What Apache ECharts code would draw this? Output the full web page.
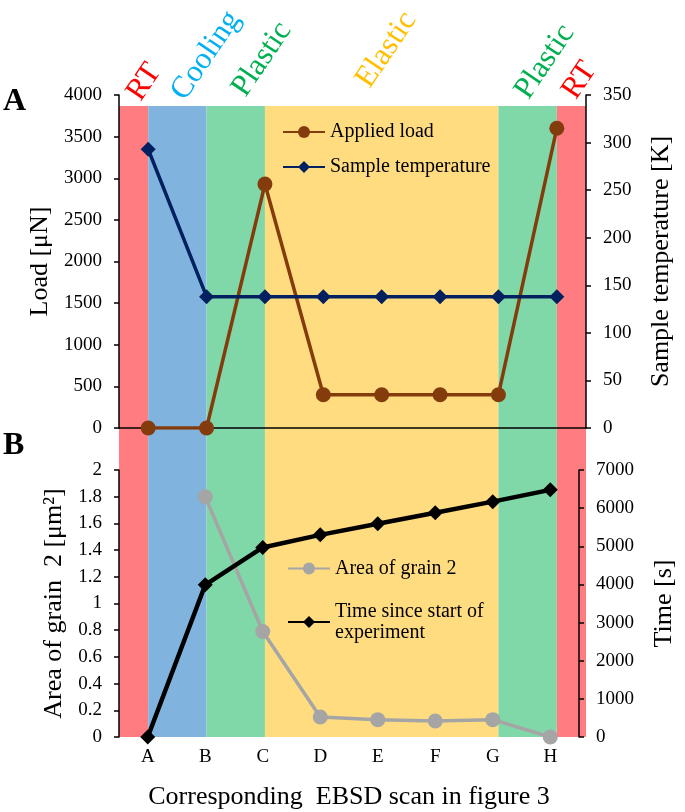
<!DOCTYPE html>
<html><head><meta charset="utf-8">
<script src="https://cdn.jsdelivr.net/npm/echarts@6/dist/echarts.min.js"></script>
<style>html,body{margin:0;padding:0;background:#fff}#c{width:685px;height:812px}</style>
</head><body><div id="c"></div>
<script>
// ---- data ----
const categories = ['A', 'B', 'C', 'D', 'E', 'F', 'G', 'H'];
const appliedLoad = [0, 0, 2930, 400, 400, 400, 400, 3600];            // µN
const sampleTemperature = [293, 138, 138, 138, 138, 138, 138, 138];     // K
const grainArea = [null, 1.8, 0.79, 0.15, 0.13, 0.12, 0.13, 0];         // µm²
const timeSinceStart = [0, 3990, 4970, 5300, 5590, 5880, 6170, 6480];   // s
const stageNames = ['RT', 'Cooling', 'Plastic', 'Elastic', 'Plastic', 'RT'];
const stageStart = [-0.5, 0, 1, 2, 6, 7];   // category index where each stage begins
const stageEnd = [0, 1, 2, 6, 7, 7.5];
const loadTicks = [0, 4000, 500];
const tempTicks = [0, 350, 50];
const areaTicks = [0, 2, 0.2];
const timeTicks = [0, 7000, 1000];

// ---- styles ----
const FONT = 'Liberation Serif';
const bandColors = ['#FF7C80', '#80B4DF', '#80D8A8', '#FFDC80', '#80D8A8', '#FF7C80'];
const stageLabelColors = ['#FF0000', '#00B0F0', '#00B050', '#FFC000', '#00B050', '#FF0000'];
const stageLabelShift = [[7, 11], [8, 11], [12, 11], [7, -12], [5, 5], [7, 8]];
const fmt = v => String(Math.round(v * 10) / 10);
const axisLabelStyle = { fontFamily: FONT, fontSize: 19, color: '#000', margin: 17, formatter: fmt };
const nameStyle = { fontFamily: FONT, fontSize: 26, color: '#000' };
const axLine = { show: true, lineStyle: { color: '#000', width: 1.5 } };
const axTick = { show: true, length: 5, lineStyle: { color: '#000', width: 1.5 } };

function yAx(grid, ticks, pos, name, gap) {
  return {
    type: 'value', gridIndex: grid, position: pos,
    min: ticks[0], max: ticks[1], interval: ticks[2],
    name: name, nameLocation: 'middle', nameRotate: 90, nameGap: gap,
    nameTextStyle: nameStyle,
    axisLine: axLine, axisTick: axTick, splitLine: { show: false },
    axisLabel: axisLabelStyle, z: 5
  };
}

const chart = echarts.init(document.getElementById('c'), null, { renderer: 'canvas' });
chart.setOption({
  animation: false,
  backgroundColor: '#fff',
  grid: [
    { left: 119, right: 99, top: 95, height: 333 },
    { left: 119, right: 99, top: 470, height: 267 },
    { left: 119, right: 99, top: 106, height: 631 }
  ],
  xAxis: [
    { type: 'category', gridIndex: 0, data: categories, boundaryGap: true,
      axisLine: axLine, axisTick: { show: false }, axisLabel: { show: false }, z: 5 },
    { type: 'category', gridIndex: 1, data: categories, boundaryGap: true,
      axisLine: { show: false }, axisTick: { show: false },
      axisLabel: { fontFamily: FONT, fontSize: 19, color: '#000', margin: 11 },
      name: 'Corresponding  EBSD scan in figure 3', nameLocation: 'middle', nameGap: 47,
      nameTextStyle: { fontFamily: FONT, fontSize: 26, color: '#000' }, z: 5 },
    { type: 'value', gridIndex: 2, min: -0.5, max: 7.5, show: false }
  ],
  yAxis: [
    yAx(0, loadTicks, 'left', 'Load [μN]', 64),
    yAx(0, tempTicks, 'right', 'Sample temperature [K]', 62),
    yAx(1, areaTicks, 'left', 'Area of grain  2 [μm²]', 50),
    yAx(1, timeTicks, 'right', 'Time [s]', 72),
    { type: 'value', gridIndex: 2, min: 0, max: 1, show: false }
  ],
  legend: [
    { data: ['Applied load', 'Sample temperature'], orient: 'vertical', left: 282, top: 122, padding: 0,
      itemWidth: 42, itemHeight: 15, itemGap: 15,
      textStyle: { fontFamily: FONT, fontSize: 20, color: '#000' } },
    { data: ['Area of grain 2', 'Time since start of experiment'], orient: 'vertical', left: 287, top: 558, padding: 0,
      itemWidth: 42, itemHeight: 15, itemGap: 22,
      formatter: n => n === 'Time since start of experiment' ? 'Time since start of\nexperiment' : n,
      textStyle: { fontFamily: FONT, fontSize: 20, color: '#000', lineHeight: 21 } }
  ],
  graphic: [
    { type: 'text', left: 3, top: 86, style: { text: 'A', font: 'bold 32px "Liberation Serif"', fill: '#000' } },
    { type: 'text', left: 3, top: 430, style: { text: 'B', font: 'bold 32px "Liberation Serif"', fill: '#000' } }
  ],
  series: [
    { type: 'line', name: 'stages', xAxisIndex: 2, yAxisIndex: 4, data: [], z: 1, silent: true,
      markArea: {
        silent: true,
        data: stageNames.map((n, i) => [
          { name: n, xAxis: stageStart[i], itemStyle: { color: bandColors[i], opacity: 1 },
            label: { show: true, position: 'top', rotate: 56, align: 'left', verticalAlign: 'bottom',
                     distance: 0, offset: stageLabelShift[i], fontFamily: FONT, fontSize: 31,
                     color: stageLabelColors[i] } },
          { xAxis: stageEnd[i] }
        ])
      } },
    { type: 'line', name: 'Applied load', xAxisIndex: 0, yAxisIndex: 0, data: appliedLoad, z: 10,
      symbol: 'circle', symbolSize: 15, lineStyle: { width: 3.5, color: '#843C0C' }, itemStyle: { color: '#843C0C' } },
    { type: 'line', name: 'Sample temperature', xAxisIndex: 0, yAxisIndex: 1, data: sampleTemperature, z: 10,
      symbol: 'diamond', symbolSize: 15, lineStyle: { width: 3.5, color: '#002060' }, itemStyle: { color: '#002060' } },
    { type: 'line', name: 'Area of grain 2', xAxisIndex: 1, yAxisIndex: 2, data: grainArea, z: 10,
      symbol: 'circle', symbolSize: 15, lineStyle: { width: 3.5, color: '#A5A5A5' }, itemStyle: { color: '#A5A5A5' } },
    { type: 'line', name: 'Time since start of experiment', xAxisIndex: 1, yAxisIndex: 3, data: timeSinceStart, z: 10,
      symbol: 'diamond', symbolSize: 15, lineStyle: { width: 4.5, color: '#000' }, itemStyle: { color: '#000' } }
  ]
});
</script></body></html>
